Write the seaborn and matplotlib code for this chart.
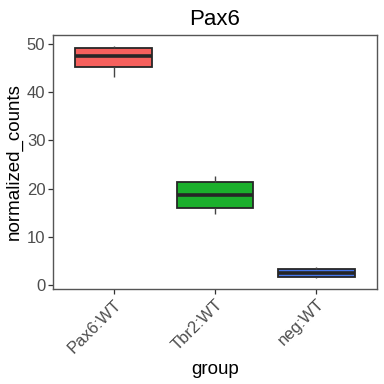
import matplotlib
matplotlib.use("Agg")
import matplotlib.pyplot as plt
import seaborn as sns
import pandas as pd
import numpy as np

groups = ["Pax6:WT", "Tbr2:WT", "neg:WT"]
pax6_vals = [43.1, 45.9, 49.1, 49.6]
tbr2_vals = [14.7, 16.3, 20.9, 22.6]
neg_vals = [1.5, 1.63, 3.17, 3.8]
colors = ["#F6605D", "#1BB02C", "#4778EC"]

df = pd.DataFrame({
    "group": [groups[0]] * len(pax6_vals) + [groups[1]] * len(tbr2_vals) + [groups[2]] * len(neg_vals),
    "normalized_counts": pax6_vals + tbr2_vals + neg_vals,
})

sns.set_theme(style="white")
plt.rcParams['font.family'] = ['Liberation Sans', 'DejaVu Sans']

fig = plt.figure(figsize=(3.84, 3.84), dpi=100)
ax = fig.add_axes([53/384, 1-289/384, (377-53)/384, (289-35)/384])

sns.boxplot(data=df, x="group", y="normalized_counts", hue="group", palette=colors,
            order=groups, hue_order=groups, width=0.76, whis=np.inf, legend=False,
            saturation=1, linecolor="#262626", linewidth=1.2, ax=ax,
            boxprops=dict(linewidth=1.3),
            medianprops=dict(linewidth=2.6, color="#262626"),
            whiskerprops=dict(linewidth=1.0, color="#444444"),
            capprops=dict(linewidth=0))

ax.set_xlim(-0.6, 2.6)
ax.set_ylim(-0.85, 51.9)
ax.set_yticks([0, 10, 20, 30, 40, 50])
for s in ax.spines.values():
    s.set_visible(True)
    s.set_color("#555555")
    s.set_linewidth(1.0)
ax.tick_params(axis="both", which="both", length=3.5, width=0.9, color="#333333",
               labelsize=12, labelcolor="#4D4D4D", pad=2, left=True, bottom=True)
plt.setp(ax.get_xticklabels(), rotation=45, ha="right", rotation_mode="anchor")
ax.set_xlabel("group", fontsize=13.5, color="black", labelpad=4)
ax.set_ylabel("normalized_counts", fontsize=13.5, color="black", labelpad=3)
ax.set_title("Pax6", fontsize=16, color="black", pad=7)

fig.savefig("out.png", dpi=100)
